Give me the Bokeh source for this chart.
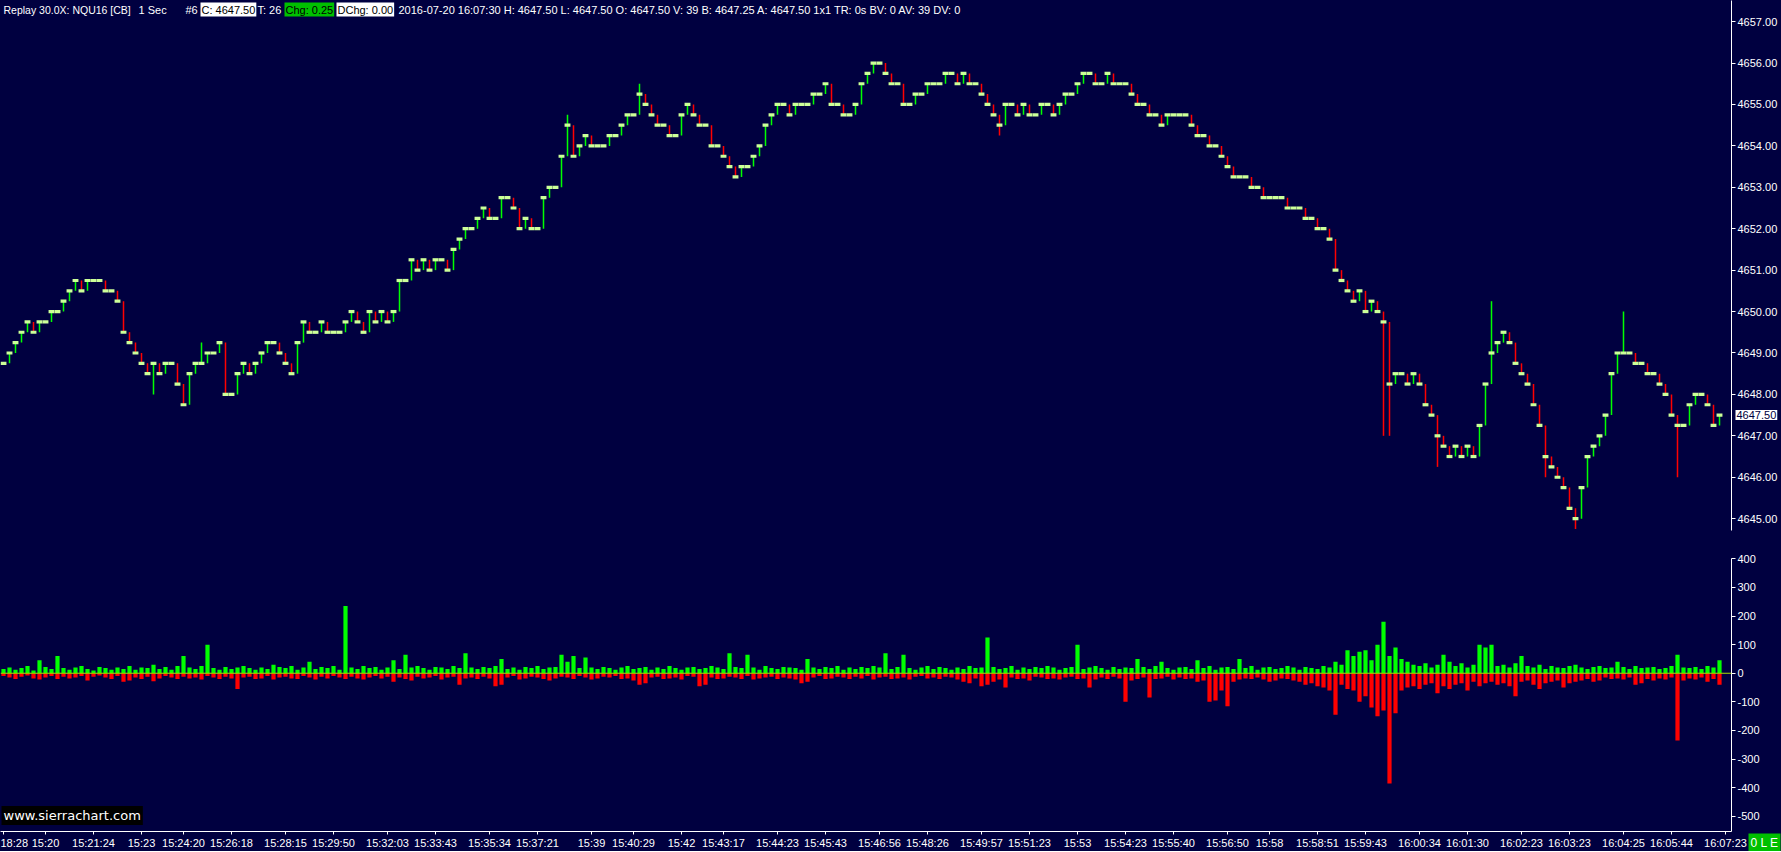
import numpy as np
from bokeh.plotting import figure
from bokeh.layouts import column
from bokeh.models import Range1d, FixedTicker, NumeralTickFormatter, Label, Span
from bokeh.embed import file_html
from bokeh.resources import INLINE

# ---------------- data (one bar per slot) ----------------
close = [
    4648.75, 4649.00, 4649.25, 4649.50, 4649.75, 4649.50, 4649.75, 4649.75, 4650.00, 4650.00,
    4650.25, 4650.50, 4650.75, 4650.50, 4650.75, 4650.75, 4650.75, 4650.50, 4650.50, 4650.25,
    4649.50, 4649.25, 4649.00, 4648.75, 4648.50, 4648.75, 4648.50, 4648.75, 4648.75, 4648.25,
    4647.75, 4648.50, 4648.75, 4648.75, 4649.00, 4649.00, 4649.25, 4648.00, 4648.00, 4648.50,
    4648.75, 4648.50, 4648.75, 4649.00, 4649.25, 4649.25, 4649.00, 4648.75, 4648.50, 4649.25,
    4649.75, 4649.50, 4649.50, 4649.75, 4649.50, 4649.50, 4649.50, 4649.75, 4650.00, 4649.75,
    4649.50, 4650.00, 4649.75, 4650.00, 4649.75, 4650.00, 4650.75, 4650.75, 4651.25, 4651.00,
    4651.25, 4651.00, 4651.25, 4651.25, 4651.00, 4651.50, 4651.75, 4652.00, 4652.00, 4652.25,
    4652.50, 4652.25, 4652.25, 4652.75, 4652.75, 4652.50, 4652.00, 4652.25, 4652.00, 4652.00,
    4652.75, 4653.00, 4653.00, 4653.75, 4654.50, 4653.75, 4654.00, 4654.25, 4654.00, 4654.00,
    4654.00, 4654.25, 4654.25, 4654.50, 4654.75, 4654.75, 4655.25, 4655.00, 4654.75, 4654.50,
    4654.50, 4654.25, 4654.25, 4654.75, 4655.00, 4654.75, 4654.50, 4654.50, 4654.00, 4654.00,
    4653.75, 4653.50, 4653.25, 4653.50, 4653.50, 4653.75, 4654.00, 4654.50, 4654.75, 4655.00,
    4655.00, 4654.75, 4655.00, 4655.00, 4655.00, 4655.25, 4655.25, 4655.50, 4655.00, 4655.00,
    4654.75, 4654.75, 4655.00, 4655.50, 4655.75, 4656.00, 4656.00, 4655.75, 4655.50, 4655.50,
    4655.00, 4655.00, 4655.25, 4655.25, 4655.50, 4655.50, 4655.50, 4655.75, 4655.75, 4655.50,
    4655.75, 4655.50, 4655.50, 4655.25, 4655.00, 4654.75, 4654.50, 4655.00, 4655.00, 4654.75,
    4655.00, 4654.75, 4654.75, 4655.00, 4655.00, 4654.75, 4655.00, 4655.25, 4655.25, 4655.50,
    4655.75, 4655.75, 4655.50, 4655.50, 4655.75, 4655.50, 4655.50, 4655.50, 4655.25, 4655.00,
    4655.00, 4654.75, 4654.75, 4654.50, 4654.75, 4654.75, 4654.75, 4654.75, 4654.50, 4654.25,
    4654.25, 4654.00, 4654.00, 4653.75, 4653.50, 4653.25, 4653.25, 4653.25, 4653.00, 4653.00,
    4652.75, 4652.75, 4652.75, 4652.75, 4652.50, 4652.50, 4652.50, 4652.25, 4652.25, 4652.00,
    4652.00, 4651.75, 4651.00, 4650.75, 4650.50, 4650.25, 4650.50, 4650.00, 4650.25, 4650.00,
    4649.75, 4648.25, 4648.50, 4648.50, 4648.25, 4648.50, 4648.25, 4647.75, 4647.50, 4647.00,
    4646.75, 4646.50, 4646.75, 4646.50, 4646.75, 4646.50, 4647.25, 4648.25, 4649.00, 4649.25,
    4649.50, 4649.25, 4648.75, 4648.50, 4648.25, 4647.75, 4647.25, 4646.50, 4646.25, 4646.00,
    4645.75, 4645.25, 4645.00, 4645.75, 4646.50, 4646.75, 4647.00, 4647.50, 4648.50, 4649.00,
    4649.00, 4649.00, 4648.75, 4648.75, 4648.50, 4648.50, 4648.25, 4648.00, 4647.50, 4647.25,
    4647.25, 4647.75, 4648.00, 4648.00, 4647.75, 4647.25, 4647.50,
]

# extra wick extremes of some bars (bar number, price)
wick_bar = [25, 33, 94, 106, 122, 166, 230, 231, 239, 248, 257, 262, 270, 279]
wick_price = [4648.00, 4649.25, 4654.75, 4655.50, 4653.25, 4654.25, 4647.00, 4647.00,
              4646.25, 4650.25, 4646.00, 4644.75, 4650.00, 4646.00]

ask_vol = [
    15, 20, 12, 18, 25, 10, 45, 22, 15, 60, 18, 12, 20, 25, 15, 10, 22, 18, 12, 20,
    15, 25, 12, 20, 18, 30, 15, 22, 12, 25, 60, 20, 15, 25, 100, 18, 12, 22, 15, 20,
    25, 18, 12, 20, 15, 30, 22, 18, 25, 12, 20, 40, 15, 22, 18, 25, 12, 235, 20, 15,
    25, 18, 22, 12, 20, 45, 15, 65, 20, 25, 18, 12, 22, 20, 15, 25, 18, 70, 20, 15,
    22, 18, 25, 50, 15, 20, 12, 22, 18, 25, 15, 20, 22, 65, 40, 60, 18, 55, 20, 15,
    22, 18, 12, 20, 25, 15, 18, 22, 12, 20, 15, 25, 18, 12, 20, 22, 15, 18, 25, 20,
    15, 70, 22, 18, 65, 20, 12, 25, 18, 15, 22, 20, 18, 12, 50, 20, 15, 22, 18, 25,
    12, 20, 15, 22, 18, 25, 20, 70, 15, 22, 65, 18, 12, 20, 25, 15, 22, 18, 12, 20,
    15, 25, 18, 20, 125, 22, 15, 18, 25, 12, 20, 15, 22, 18, 25, 20, 12, 18, 22, 100,
    15, 20, 25, 18, 12, 22, 15, 20, 18, 50, 22, 15, 25, 40, 18, 12, 20, 22, 15, 45,
    18, 25, 12, 20, 22, 15, 50, 18, 25, 12, 20, 22, 15, 18, 25, 20, 12, 22, 18, 15,
    25, 20, 40, 30, 80, 60, 75, 80, 45, 100, 180, 60, 90, 50, 40, 30, 25, 35, 20, 30,
    65, 40, 25, 35, 20, 30, 100, 90, 100, 25, 30, 20, 35, 60, 25, 20, 30, 15, 25, 20,
    18, 25, 30, 20, 15, 22, 25, 18, 20, 40, 22, 15, 25, 18, 20, 22, 15, 18, 25, 65,
    20, 18, 22, 15, 25, 20, 45,
]

bid_vol = [
    10, 15, 20, 12, 8, 18, 22, 15, 10, 20, 12, 18, 15, 10, 25, 12, 8, 15, 20, 10,
    30, 25, 15, 20, 12, 28, 18, 10, 15, 20, 12, 18, 15, 22, 10, 15, 20, 12, 18, 55,
    15, 12, 20, 18, 10, 22, 15, 12, 18, 20, 10, 15, 22, 12, 18, 10, 15, 20, 12, 18,
    22, 15, 10, 18, 12, 30, 15, 20, 25, 12, 18, 15, 10, 22, 15, 12, 40, 18, 15, 20,
    12, 18, 45, 40, 15, 10, 22, 18, 12, 15, 20, 25, 18, 12, 15, 20, 10, 15, 22, 18,
    12, 15, 10, 20, 18, 25, 40, 35, 15, 12, 20, 18, 15, 22, 10, 12, 45, 40, 15, 20,
    18, 12, 15, 20, 10, 22, 18, 15, 12, 20, 15, 18, 22, 35, 30, 15, 10, 20, 18, 12,
    15, 20, 12, 18, 10, 22, 15, 12, 20, 18, 15, 22, 12, 10, 18, 15, 20, 12, 15, 22,
    30, 35, 18, 45, 40, 30, 22, 50, 15, 20, 18, 25, 12, 15, 20, 18, 22, 15, 12, 20,
    18, 50, 22, 15, 20, 12, 18, 100, 25, 20, 15, 85, 20, 18, 12, 22, 15, 20, 18, 30,
    25, 100, 95, 60, 115, 30, 22, 18, 20, 15, 22, 30, 25, 18, 20, 25, 30, 40, 35, 45,
    50, 60, 145, 40, 55, 60, 100, 80, 120, 150, 130, 385, 140, 60, 50, 45, 55, 40, 35, 70,
    45, 55, 40, 35, 60, 30, 45, 35, 30, 40, 35, 45, 80, 30, 25, 40, 55, 35, 30, 25,
    50, 35, 30, 25, 20, 30, 25, 15, 20, 18, 22, 15, 40, 35, 20, 25, 18, 22, 15, 235,
    25, 18, 22, 15, 30, 20, 40,
]

time_tick_bar = [0, 7, 15, 23, 30, 38, 47, 55, 64, 72, 81, 89, 98, 105, 113, 120, 129, 137,
                 146, 154, 163, 171, 179, 187, 195, 204, 211, 219, 227, 236, 244, 253, 261,
                 270, 278, 287]
time_tick_label = ["18:28", "15:20", "15:21:24", "15:23", "15:24:20", "15:26:18", "15:28:15",
                   "15:29:50", "15:32:03", "15:33:43", "15:35:34", "15:37:21", "15:39",
                   "15:40:29", "15:42", "15:43:17", "15:44:23", "15:45:43", "15:46:56",
                   "15:48:26", "15:49:57", "15:51:23", "15:53", "15:54:23", "15:55:40",
                   "15:56:50", "15:58", "15:58:51", "15:59:43", "16:00:34", "16:01:30",
                   "16:02:23", "16:03:23", "16:04:25", "16:05:44", "16:07:23"]

price_ticks = [4645, 4646, 4647, 4648, 4649, 4650, 4651, 4652, 4653, 4654, 4655, 4656, 4657]
vol_ticks = [-500, -400, -300, -200, -100, 0, 100, 200, 300, 400]
last_price = 4647.50

assert len(close) == len(ask_vol) == len(bid_vol)
assert len(time_tick_bar) == len(time_tick_label)

# ---------------- styling ----------------
BG = "#000040"
UP = "#00FF00"
DN = "#FF0000"
DASH = "#CCFF99"
WHITE = "#FFFFFF"
FONT = "Liberation Sans"

c = np.array(close)
n = len(c)
idx = np.arange(n)
opens = np.r_[c[0], c[:-1]]
hi = np.maximum(opens, c)
lo = np.minimum(opens, c)
for k, pr in zip(wick_bar, wick_price):
    hi[k] = max(hi[k], pr)
    lo[k] = min(lo[k], pr)
bar_col = np.where(c < opens, DN, UP)

x_range = Range1d(-0.5, 288.0)
FRAME_W = 1731
H1, H2 = 530, 273


def style_axis(ax):
    ax.axis_line_color = WHITE
    ax.axis_line_width = 1
    ax.major_tick_line_color = WHITE
    ax.major_tick_in = 0
    ax.major_tick_out = 4
    ax.minor_tick_line_color = None
    ax.major_label_text_color = WHITE
    ax.major_label_text_font = FONT
    ax.major_label_text_font_size = "11px"
    ax.major_label_standoff = 2


# ---- price panel ----
p1 = figure(frame_width=FRAME_W, frame_height=H1, x_range=x_range,
            y_range=Range1d(4644.714, 4657.51), output_backend="svg",
            toolbar_location=None, y_axis_location="right", x_axis_location=None,
            min_border_left=0, min_border_top=0, min_border_bottom=0, min_border_right=50,
            background_fill_color=BG, border_fill_color=BG, outline_line_color=None)
p1.grid.visible = False
p1.segment(x0=idx, y0=lo, x1=idx, y1=hi, line_color=bar_col, line_width=1.5)
p1.rect(x=idx, y=c, width=0.98, height=3.2, height_units="screen",
        fill_color=DASH, line_color=None)
style_axis(p1.yaxis[0])
p1.yaxis.ticker = FixedTicker(ticks=price_ticks)
p1.yaxis.formatter = NumeralTickFormatter(format="0.00")

# last-price box on the price scale (in a side panel so it is not clipped to the frame)
p1.add_layout(Label(x=288.0, y=last_price, x_offset=4, text="%.2f" % last_price,
                    text_baseline="middle", text_color=BG, text_font=FONT,
                    text_font_size="11px", background_fill_color=WHITE, padding=1), "below")

# header line
top = H1 - 9
head = [
    (2, "Replay 30.0X: NQU16 [CB]", None, WHITE, "10.5px"),
    (137, "1 Sec", None, WHITE, "11px"),
    (184, "#6", None, WHITE, "11px"),
    (200, "C: 4647.50", WHITE, "#000000", "11px"),
    (256, "T: 26", None, WHITE, "11px"),
    (284, "Chg: 0.25", "#00C000", "#000000", "11px"),
    (336, "DChg: 0.00", WHITE, "#000000", "11px"),
    (397, "2016-07-20 16:07:30 H: 4647.50 L: 4647.50 O: 4647.50 V: 39 B: 4647.25 "
          "A: 4647.50 1x1 TR: 0s BV: 0 AV: 39 DV: 0", None, WHITE, "11px"),
]
for hx, txt, bgc, tc, fs in head:
    p1.add_layout(Label(x=hx, y=top, x_units="screen", y_units="screen", text=txt,
                        text_baseline="middle", text_color=tc, text_font=FONT,
                        text_font_size=fs, background_fill_color=bgc, padding=1))

# ---- volume panel ----
VMIN, VMAX = -553, 401
p2 = figure(frame_width=FRAME_W, frame_height=H2, x_range=x_range,
            y_range=Range1d(VMIN, VMAX), output_backend="svg",
            toolbar_location=None, y_axis_location="right",
            min_border_left=0, min_border_top=0, min_border_bottom=18, min_border_right=50,
            background_fill_color=BG, border_fill_color=BG, outline_line_color=None)
p2.grid.visible = False
p2.vbar(x=idx, top=np.array(ask_vol), bottom=0, width=0.7, fill_color=UP, line_color=None)
p2.vbar(x=idx, top=0, bottom=-np.array(bid_vol), width=0.7, fill_color=DN, line_color=None)
p2.add_layout(Span(location=0, dimension="width", line_color="#A8E000", line_width=1.2))
style_axis(p2.yaxis[0])
p2.yaxis.ticker = FixedTicker(ticks=vol_ticks)
p2.yaxis.formatter = NumeralTickFormatter(format="0")
style_axis(p2.xaxis[0])
p2.xaxis.major_tick_out = 3
p2.xaxis.ticker = FixedTicker(ticks=time_tick_bar)
p2.xaxis.major_label_overrides = {b: s for b, s in zip(time_tick_bar, time_tick_label)}

p2.add_layout(Label(x=1, y=VMIN, y_offset=16, x_units="screen",
                    text="www.sierrachart.com", text_baseline="middle",
                    text_color=WHITE, text_font="DejaVu Sans", text_font_size="13px",
                    background_fill_color="#000000", padding=2))
# status box in the lower right corner (side panel, drawn at the corner position)
p2.add_layout(Label(x=288.0, y=VMIN, x_offset=17, y_offset=-11,
                    text="0 L E", text_baseline="middle", text_color=WHITE,
                    text_font=FONT, text_font_size="12px",
                    background_fill_color="#00C000", padding=2), "above")

layout = column(p1, p2, spacing=0)
layout.styles = {"background-color": BG}

with open("out.html", "w") as f:
    f.write(file_html(layout, INLINE))
